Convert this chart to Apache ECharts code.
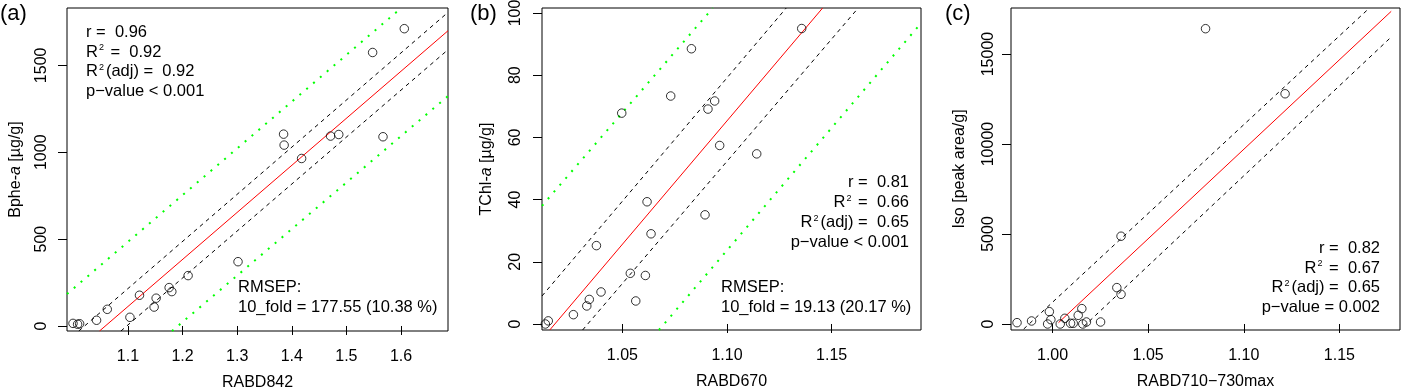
<!DOCTYPE html>
<html><head><meta charset="utf-8">
<script src="https://cdn.jsdelivr.net/npm/echarts@6/dist/echarts.min.js"></script>
<style>html,body{margin:0;padding:0;background:#fff}#c{width:1401px;height:389px}</style>
</head><body><div id="c"></div>
<script>
// ---------- Panel (a): RABD842 vs Bphe-a ----------
const aX = [0.9995, 1.0079, 1.0116, 1.0426, 1.0622, 1.1037, 1.1212, 1.1480, 1.1517, 1.1755, 1.1804, 1.2102, 1.3016, 1.3850, 1.3860, 1.4180, 1.4710, 1.4860, 1.5480, 1.5670, 1.6060];
const aY = [15, 10, 13, 33, 96, 50, 177, 109, 160, 221, 198, 290, 370, 1104, 1041, 964, 1093, 1102, 1574, 1089, 1711];
const aFit = [[1.048, -28.8], [1.686, 1699]];
const aDashUp = [[1.0101, -28.8], [1.686, 1805]];
const aDashLo = [[1.0872, -28.8], [1.686, 1590]];
const aDotUp = [[0.9885, 184], [1.6004, 1830]];
const aDotLo = [[1.1807, -28.8], [1.686, 1323]];
const aXTicks = [1.1, 1.2, 1.3, 1.4, 1.5, 1.6];
const aXTickLabels = ['1.1', '1.2', '1.3', '1.4', '1.5', '1.6'];
const aYTicks = [0, 500, 1000, 1500];
const aYTickLabels = ['0', '500', '1000', '1500'];
const aStats = ['0.96', '0.92', '0.92', '< 0.001'];
const aRmsep = '177.55 (10.38 %)';

// ---------- Panel (b): RABD670 vs TChl-a ----------
const bX = [1.0132, 1.0146, 1.0266, 1.0330, 1.0342, 1.0376, 1.0398, 1.0497, 1.0538, 1.0564, 1.0610, 1.0618, 1.0637, 1.0731, 1.0830, 1.0895, 1.0909, 1.0941, 1.0965, 1.1142, 1.1357];
const bY = [0.0, 1.0, 3.0, 5.8, 7.9, 25.2, 10.3, 67.8, 16.3, 7.4, 15.6, 39.3, 29.0, 73.3, 88.5, 35.1, 69.1, 71.7, 57.4, 54.7, 95.0];
const bFit = [[1.0153, -1.93], [1.1457, 101.6]];
const bDashUp = [[1.0116, 9.0], [1.1283, 101.6]];
const bDashLo = [[1.0310, -1.93], [1.1627, 101.6]];
const bDotUp = [[1.0116, 38.0], [1.0932, 101.6]];
const bDotLo = [[1.0675, -1.93], [1.1927, 96.7]];
const bXTicks = [1.05, 1.10, 1.15];
const bXTickLabels = ['1.05', '1.10', '1.15'];
const bYTicks = [0, 20, 40, 60, 80, 100];
const bYTickLabels = ['0', '20', '40', '60', '80', '100'];
const bStats = ['0.81', '0.66', '0.65', '< 0.001'];
const bRmsep = '19.13 (20.17 %)';

// ---------- Panel (c): RABD710-730max vs Iso ----------
const cX = [0.9814, 0.9890, 0.9974, 0.9983, 0.9991, 1.0040, 1.0064, 1.0094, 1.0108, 1.0134, 1.0153, 1.0158, 1.0177, 1.0251, 1.0336, 1.0358, 1.0358, 1.0800, 1.1216];
const cY = [74, 167, 0, 686, 241, 0, 315, 37, 37, 482, 853, 0, 111, 111, 2021, 1650, 4877, 16410, 12794];
const cFit = [[1.0031, 74], [1.1771, 17375]];
const cDashUp = [[0.9849, -278], [1.1644, 17430]];
const cDashLo = [[1.0162, -148], [1.1771, 15947]];
const cXTicks = [1.00, 1.05, 1.10, 1.15];
const cXTickLabels = ['1.00', '1.05', '1.10', '1.15'];
const cYTicks = [0, 5000, 10000, 15000];
const cYTickLabels = ['0', '5000', '10000', '15000'];
const cStats = ['0.82', '0.67', '0.65', '= 0.002'];

// ---------- helpers ----------
const FONT = '"Liberation Sans", Arial, Helvetica, sans-serif';
const TS = 16.5;
const pts = (xs, ys) => xs.map((x, i) => [x, ys[i]]);
const fmt = (ticks, labels) => v => { let k = 0, d = Infinity; ticks.forEach((t, i) => { const e = Math.abs(t - v); if (e < d) { d = e; k = i; } }); return labels[k]; };

function xAxisOf(gi, min, max, ticks, labels, name) {
  return {
    type: 'value', gridIndex: gi, min, max, name, nameLocation: 'middle', nameGap: 44,
    nameTextStyle: { fontSize: 16, color: '#000', fontFamily: FONT },
    axisLine: { show: false }, splitLine: { show: false },
    axisTick: { show: true, customValues: ticks, length: 9, lineStyle: { color: '#000', width: 1 } },
    axisLabel: { show: true, customValues: ticks, formatter: fmt(ticks, labels), margin: 18, fontSize: 16, color: '#000', fontFamily: FONT }
  };
}
function yAxisOf(gi, min, max, ticks) {
  return {
    type: 'value', gridIndex: gi, min, max,
    axisLine: { show: false }, splitLine: { show: false },
    axisTick: { show: true, customValues: ticks, length: 9, lineStyle: { color: '#000', width: 1 } },
    axisLabel: { show: false, customValues: ticks }
  };
}
function scatter(gi, xs, ys) {
  return { type: 'scatter', xAxisIndex: gi, yAxisIndex: gi, data: pts(xs, ys), symbol: 'circle', symbolSize: 8.5,
    itemStyle: { color: 'rgba(0,0,0,0)', borderColor: '#000', borderWidth: 1 }, silent: true, z: 3 };
}
function seg(gi, data, color, type, width) {
  return { type: 'line', xAxisIndex: gi, yAxisIndex: gi, data, symbol: 'none', showSymbol: false, silent: true, clip: true,
    lineStyle: { color, type, width }, z: 2 };
}
const RICH = {
  n: { fontSize: TS, fontFamily: FONT, fill: '#000' },
  s: { fontSize: 9, fontFamily: FONT, fill: '#000', verticalAlign: 'top', padding: [0, 2, 0, 1] },
  i: { fontSize: 16, fontFamily: FONT, fill: '#000', fontStyle: 'italic' },
  t: { fontSize: 16, fontFamily: FONT, fill: '#000' }
};
function txt(x, y, text, align) {
  return { type: 'text', x, y, silent: true,
    style: { text, fontSize: TS, fontFamily: FONT, fill: '#000', align, verticalAlign: 'middle', rich: RICH } };
}
function stats(x, ys, align, s) {
  return [
    txt(x, ys[0], '{n|r =  ' + s[0] + '}', align),
    txt(x, ys[1], '{n|R}{s|2}{n| =  ' + s[1] + '}', align),
    txt(x, ys[2], '{n|R}{s|2}{n|(adj) =  ' + s[2] + '}', align),
    txt(x, ys[3], '{n|p\u2212value ' + s[3] + '}', align)
  ];
}
function plain(x, y, text, size) {
  return { type: 'text', x, y, silent: true,
    style: { text, fontSize: size, fontFamily: FONT, fill: '#000', align: 'left', verticalAlign: 'middle' } };
}
function vtext(x, y, text) {
  return { type: 'text', x, y, rotation: Math.PI / 2, silent: true,
    style: { text, fontSize: 16, fontFamily: FONT, fill: '#000', align: 'center', verticalAlign: 'middle', rich: RICH } };
}

const grids = [
  { left: 67, top: 8, width: 381, height: 323 },
  { left: 542, top: 8, width: 379, height: 322 },
  { left: 1011, top: 8, width: 389, height: 322 }
].map(g => Object.assign(g, { show: true, borderColor: '#000', borderWidth: 1, backgroundColor: 'transparent', containLabel: false, outerBoundsMode: 'none' }));

const option = {
  animation: false,
  backgroundColor: '#fff',
  textStyle: { fontFamily: FONT },
  grid: grids,
  xAxis: [
    xAxisOf(0, 0.9885, 1.686, aXTicks, aXTickLabels, 'RABD842'),
    xAxisOf(1, 1.0116, 1.1927, bXTicks, bXTickLabels, 'RABD670'),
    xAxisOf(2, 0.97825, 1.1817, cXTicks, cXTickLabels, 'RABD710\u2212730max')
  ],
  yAxis: [
    yAxisOf(0, -28.8, 1830, aYTicks),
    yAxisOf(1, -1.93, 101.6, bYTicks),
    yAxisOf(2, -334, 17560, cYTicks)
  ],
  series: [
    seg(0, aDotUp, '#00ff00', [2, 7], 2),
    seg(0, aDotLo, '#00ff00', [2, 7], 2),
    seg(0, aDashUp, '#000', [4, 4], 1),
    seg(0, aDashLo, '#000', [4, 4], 1),
    seg(0, aFit, '#ff0000', 'solid', 1),
    scatter(0, aX, aY),
    seg(1, bDotUp, '#00ff00', [2, 7], 2),
    seg(1, bDotLo, '#00ff00', [2, 7], 2),
    seg(1, bDashUp, '#000', [4, 4], 1),
    seg(1, bDashLo, '#000', [4, 4], 1),
    seg(1, bFit, '#ff0000', 'solid', 1),
    scatter(1, bX, bY),
    seg(2, cDashUp, '#000', [4, 4], 1),
    seg(2, cDashLo, '#000', [4, 4], 1),
    seg(2, cFit, '#ff0000', 'solid', 1),
    scatter(2, cX, cY)
  ],
  graphic: []
};
const chart = echarts.init(document.getElementById('c'), null, { renderer: 'canvas' });
chart.setOption(option);

// y tick labels and y titles placed through the axis scales
const yPanels = [
  { ticks: aYTicks, labels: aYTickLabels, lx: 41.7, tx: 15.3, title: '{t|Bphe-}{i|a}{t| [\u00b5g/g]}' },
  { ticks: bYTicks, labels: bYTickLabels, lx: 515.5, tx: 486.7, title: '{t|TChl-}{i|a}{t| [\u00b5g/g]}' },
  { ticks: cYTicks, labels: cYTickLabels, lx: 988.3, tx: 959.8, title: '{t|Iso [peak area/g]}' }
];
const extra = [];
yPanels.forEach((p, gi) => {
  p.ticks.forEach((v, k) => {
    const py = chart.convertToPixel({ yAxisIndex: gi }, v);
    extra.push(vtext(p.lx, py, '{t|' + p.labels[k] + '}'));
  });
  const g = grids[gi];
  extra.push(vtext(p.tx, g.top + g.height / 2, p.title));
});
chart.setOption({
  graphic: [].concat(
    [plain(0, 14, '(a)', 22), plain(470, 14, '(b)', 22), plain(945, 14, '(c)', 22)],
    stats(86, [32.5, 52, 71.5, 91], 'left', aStats),
    [plain(238, 287.5, 'RMSEP:', TS), plain(238, 307.5, '10_fold = ' + aRmsep, TS)],
    stats(909, [182.5, 202.5, 222.5, 242.5], 'right', bStats),
    [plain(721, 287, 'RMSEP:', TS), plain(721, 307, '10_fold = ' + bRmsep, TS)],
    stats(1380, [248.3, 268, 287.5, 307], 'right', cStats),
    extra
  )
});
</script></body></html>
